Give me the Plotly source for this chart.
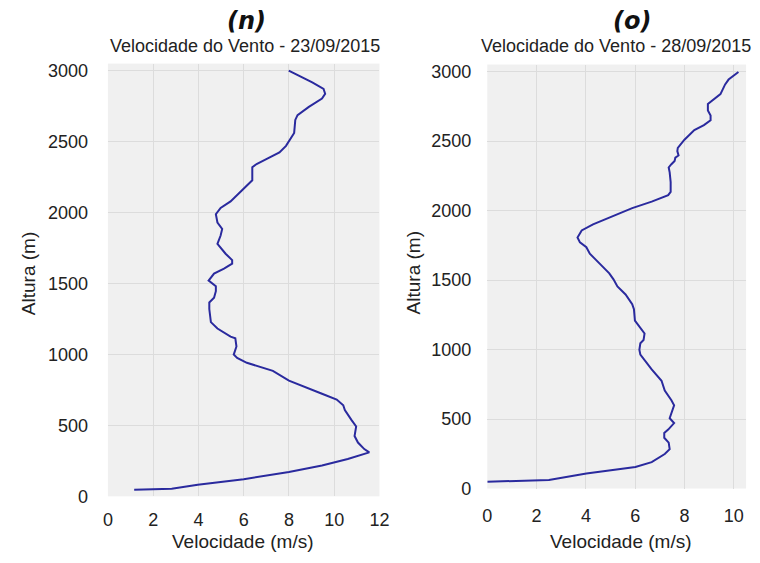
import plotly.graph_objects as go

# Panel (n) 23/09/2015
vel_n = [1.16, 2.82, 3.97, 6.0, 8.0, 9.46, 10.6, 11.55, 11.33, 11.05,
         10.9, 10.97, 10.76, 10.47, 10.40, 10.11, 9.46, 8.0, 7.29, 6.14,
         5.71, 5.56, 5.68, 5.63, 5.42, 4.84, 4.55, 4.48, 4.48, 4.69,
         4.77, 4.77, 4.45, 4.69, 5.13, 5.49, 5.49, 5.2, 4.84, 4.98,
         5.05, 4.84, 4.77, 4.98, 5.42, 5.85, 6.14, 6.38, 6.38, 6.57,
         7.0, 7.58, 7.87, 8.09, 8.23, 8.28, 8.38, 8.88, 9.46, 9.60,
         9.53, 9.03, 8.59, 7.99]
alt_n = [46, 53, 81, 121, 172, 218, 263, 310, 333, 379,
         425, 493, 539, 608, 642, 682, 723, 815, 884, 941,
         976, 999, 1056, 1114, 1125, 1183, 1228, 1320, 1366, 1400,
         1446, 1481, 1520, 1570, 1605, 1640, 1665, 1710, 1780, 1838,
         1884, 1930, 1988, 2033, 2079, 2148, 2194, 2228, 2320, 2342,
         2376, 2424, 2470, 2526, 2561, 2653, 2687, 2745, 2803, 2837,
         2872, 2917, 2951, 3000]

# Panel (o) 28/09/2015
vel_o = [0.0, 2.5, 4.02, 6.01, 6.67, 7.2, 7.4, 7.36, 7.18, 7.18,
         7.34, 7.58, 7.4, 7.47, 7.58, 7.47, 7.2, 7.07, 6.67, 6.21,
         6.17, 6.21, 6.34, 6.38, 6.15, 5.99, 5.95, 5.88, 5.61, 5.28,
         5.12, 4.95, 4.56, 4.16, 4.02, 3.76, 3.66, 3.83, 4.29, 5.09,
         5.88, 6.67, 7.34, 7.44, 7.44, 7.4, 7.36, 7.47, 7.6, 7.63,
         7.76, 7.71, 7.73, 8.0, 8.4, 8.79, 9.06, 9.06, 8.95, 8.95,
         9.19, 9.46, 9.65, 9.79, 10.19]
alt_o = [49, 61, 108, 155, 190, 248, 283, 330, 365, 400,
         424, 471, 506, 541, 599, 635, 705, 775, 857, 963,
         998, 1045, 1068, 1115, 1173, 1208, 1290, 1326, 1396, 1454,
         1505, 1548, 1618, 1689, 1736, 1771, 1806, 1857, 1900, 1958,
         2017, 2064, 2110, 2134, 2204, 2275, 2310, 2333, 2356, 2380,
         2396, 2427, 2450, 2509, 2579, 2614, 2649, 2684, 2720, 2767,
         2802, 2837, 2907, 2942, 2996]

panel_labels = ["(n)", "(o)"]
subtitles = ["Velocidade do Vento - 23/09/2015", "Velocidade do Vento - 28/09/2015"]
x_title = "Velocidade (m/s)"
y_title = "Altura (m)"

W, H = 760, 563
def px(x):
    return x / W
def py(y):
    return 1 - y / H

LINE = "#2a2a9e"
FONT = "Liberation Sans, Arial, sans-serif"

fig = go.Figure()
fig.add_trace(go.Scatter(x=vel_n, y=alt_n, mode="lines", line=dict(color=LINE, width=2),
                         xaxis="x", yaxis="y", showlegend=False))
fig.add_trace(go.Scatter(x=vel_o, y=alt_o, mode="lines", line=dict(color=LINE, width=2),
                         xaxis="x2", yaxis="y2", showlegend=False))

axcommon = dict(showgrid=True, gridcolor="#dcdcdc", gridwidth=1, zeroline=False,
                showline=False, ticks="", tickfont=dict(family=FONT, size=18, color="#222222"))

fig.update_layout(
    width=W, height=H, autosize=False,
    margin=dict(l=0, r=0, t=0, b=0),
    paper_bgcolor="white", plot_bgcolor="#f0f0f0",
    xaxis=dict(domain=[px(105), px(382)], range=[0, 12], dtick=2, anchor="y",
               ticklabelstandoff=11, **axcommon),
    yaxis=dict(domain=[py(505), py(62)], range=[0, 3050], dtick=500, anchor="x",
               ticklabelstandoff=19, **axcommon),
    xaxis2=dict(domain=[px(492), px(756)], range=[0, 10.5], dtick=2, anchor="y2",
                ticklabelstandoff=14, **axcommon),
    yaxis2=dict(domain=[py(497), py(63)], range=[0, 3050], dtick=500, anchor="x2",
                ticklabelstandoff=15, **axcommon),
)

ann = []
centers = [(246, 245, 243, 24, 277), (640, 623, 628, 417, 276)]
for i, (cx_lab, cx_sub, cx_xt, x_yt, y_yt) in enumerate(centers):
    ann.append(dict(text="<b><i>" + panel_labels[i] + "</i></b>", x=px(cx_lab), y=py(18),
                    xref="paper", yref="paper", showarrow=False, xanchor="center", yanchor="middle",
                    font=dict(family="DejaVu Sans", size=24, color="#111111")))
    ann.append(dict(text=subtitles[i], x=px(cx_sub), y=py(44),
                    xref="paper", yref="paper", showarrow=False, xanchor="center", yanchor="middle",
                    font=dict(family=FONT, size=18, color="#222222")))
    ann.append(dict(text=x_title, x=px(cx_xt), y=0, borderpad=0,
                    xref="paper", yref="paper", showarrow=False, xanchor="center", yanchor="bottom",
                    font=dict(family=FONT, size=19, color="#222222")))
    ann.append(dict(text=y_title, x=px(x_yt), y=py(y_yt), textangle=-90,
                    xref="paper", yref="paper", showarrow=False, xanchor="center", yanchor="middle",
                    font=dict(family=FONT, size=19, color="#222222")))
fig.update_layout(annotations=ann)

fig.write_html("out.html")
